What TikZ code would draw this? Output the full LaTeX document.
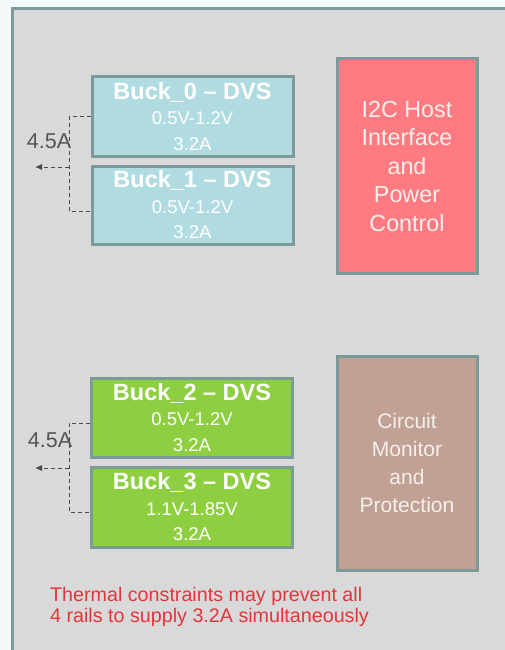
\documentclass[tikz,border=0pt]{standalone}
\usepackage{fontspec}
\setmainfont{Liberation Sans}
\usetikzlibrary{arrows.meta}
\definecolor{pagebg}{HTML}{F4FAFA}
\definecolor{panelbg}{HTML}{D9D9D9}
\definecolor{edge}{HTML}{7C9A9A}
\definecolor{buckblue}{HTML}{B0DCE1}
\definecolor{buckgreen}{HTML}{8DCF40}
\definecolor{hostpink}{HTML}{FF7B81}
\definecolor{monbrown}{HTML}{C0A193}
\definecolor{warnred}{HTML}{E2363C}
\definecolor{dashgray}{HTML}{4A4A4A}
\definecolor{labgray}{HTML}{555555}
\definecolor{softwhite}{HTML}{F6F0EC}
\begin{document}
\begin{tikzpicture}[x=1pt,y=-1pt,
  buckbox/.style={draw=edge, line width=3pt, minimum width=201pt, minimum height=79pt,
    inner sep=0pt, align=center, text=white, font=\fontsize{18.5}{25.5}\selectfont},
  bigbox/.style={draw=edge, line width=3pt, minimum width=140pt, minimum height=214pt,
    inner sep=0pt, align=center, text=softwhite},
  dl/.style={draw=dashgray, line width=0.9pt, dash pattern=on 4pt off 3pt},
  arr/.style={-{Latex[length=7pt,width=6pt]}},
  lab/.style={text=labgray, font=\fontsize{21.5}{24}\selectfont, inner sep=0pt},
  warn/.style={text=warnred, font=\fontsize{19.7}{21}\selectfont, inner sep=0pt, anchor=base west}]
\useasboundingbox (0,0) rectangle (505,650);
\clip (0,0) rectangle (505,650);
\fill[pagebg] (0,0) rectangle (505,650);
\draw[edge, fill=panelbg, line width=3pt] (12.5,8.5) rectangle (540,690);

\node[buckbox, fill=buckblue] (b0) at (192.5,116.5) {\textbf{\fontsize{23.5}{25.5}\selectfont Buck\_0 -- DVS}\\0.5V-1.2V\\3.2A};
\node[buckbox, fill=buckblue, minimum height=78pt] (b1) at (192.5,205) {\textbf{\fontsize{23.5}{25.5}\selectfont Buck\_1 -- DVS}\\0.5V-1.2V\\3.2A};
\node[buckbox, fill=buckgreen] (b2) at (192,417.5) {\textbf{\fontsize{23.5}{25.5}\selectfont Buck\_2 -- DVS}\\0.5V-1.2V\\3.2A};
\node[buckbox, fill=buckgreen, minimum height=80pt] (b3) at (192,507) {\textbf{\fontsize{23.5}{25.5}\selectfont Buck\_3 -- DVS}\\1.1V-1.85V\\3.2A};

\node[bigbox, fill=hostpink, font=\fontsize{23.3}{28.5}\selectfont] (host) at (407,166) {I2C Host\\Interface\\and\\Power\\Control};
\node[bigbox, fill=monbrown, font=\fontsize{21}{28.3}\selectfont] (mon) at (407,463) {Circuit\\Monitor\\and\\Protection};

% upper dashed group
\coordinate (u0) at (69,116.5);
\coordinate (u1) at (69,211);
\coordinate (um) at (69,167);
\coordinate (ua) at (35,167);
\draw[dl] (b0.west) -- (u0) -- (u1) -- (b1.west |- u1);
\draw[dl, arr] (um) -- (ua);
\node[lab] (l0) at (49,141) {4.5A};

% lower dashed group
\coordinate (d0) at (69,423);
\coordinate (d1) at (69,512);
\coordinate (dm) at (69,468);
\coordinate (da) at (35,468);
\draw[dl] (b2.west |- d0) -- (d0) -- (d1) -- (b3.west |- d1);
\draw[dl, arr] (dm) -- (da);
\node[lab] (l1) at (50,440) {4.5A};

\node[warn] (w1) at (50,601.7) {Thermal constraints may prevent all};
\node[warn] (w2) at (50,622.7) {4 rails to supply 3.2A simultaneously};
\end{tikzpicture}
\end{document}
